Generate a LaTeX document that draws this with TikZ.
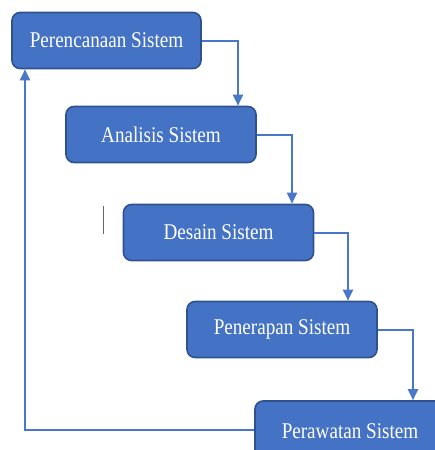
\documentclass[tikz,border=0pt]{standalone}
\usepackage{fontspec}
\setmainfont{Liberation Serif}
\newfontfamily\boxfont[FakeStretch=0.85]{Liberation Serif}
\usetikzlibrary{arrows.meta}
\definecolor{boxfill}{HTML}{4472C4}
\definecolor{boxedge}{HTML}{2F528F}
\definecolor{flowline}{HTML}{4A78C8}
\begin{document}
\begin{tikzpicture}[x=1pt,y=-1pt,
  stage/.style={draw=boxedge, line width=1.6pt, fill=boxfill, rounded corners=8pt,
    minimum width=190pt, minimum height=56pt, inner sep=0pt,
    text=white, font=\boxfont\fontsize{22.5pt}{26pt}\selectfont},
  flow/.style={draw=flowline, line width=2pt,
    -{Triangle[width=10pt,length=11pt]}}]
  \useasboundingbox (0,0) rectangle (435,450);
  \clip (0,0) rectangle (435,450);
  % stages of the cycle
  \node[stage, minimum width=189pt] (plan) at (106.5,40.5) {Perencanaan Sistem};
  \node[stage] (anal) at (161,134.5) {Analisis Sistem};
  \node[stage] (desn) at (218.5,232.5) {Desain Sistem};
  \node[stage] (impl) at (282,329.5) {Penerapan Sistem};
  \node[stage, minimum height=60pt] (mnt) at (350,431) {Perawatan Sistem};
  % cascading flow
  \draw[flow] (plan.east) -| ([xshift=77pt]anal.north);
  \draw[flow] (anal.east) -| ([xshift=73.5pt]desn.north);
  \draw[flow] (desn.east) -| ([xshift=66pt]impl.north);
  \draw[flow] (impl.east) -| ([xshift=63pt]mnt.north);
  % return to planning
  \draw[flow] ([yshift=1pt]mnt.west) -| ([xshift=-81.5pt]plan.south);
  % text cursor mark
  \draw[black!60, line width=1.2pt] (103.3,206) -- (103.3,234);
\end{tikzpicture}
\end{document}
